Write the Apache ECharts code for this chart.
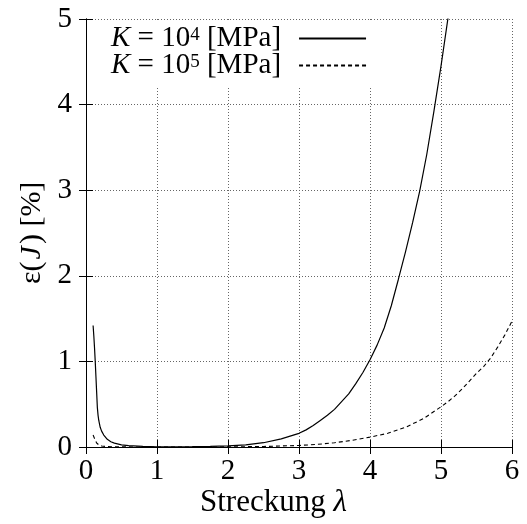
<!DOCTYPE html>
<html>
<head>
<meta charset="utf-8">
<script src="https://cdn.jsdelivr.net/npm/echarts@6/dist/echarts.min.js"></script>
<style>html,body{margin:0;padding:0;background:#fff;}#c{width:527px;height:524px;}</style>
</head>
<body>
<div id="c"></div>
<script>
var xTicks = [0, 1, 2, 3, 4, 5, 6];
var yTicks = [0, 1, 2, 3, 4, 5];
var seriesNames = ['K = 10^4 [MPa]', 'K = 10^5 [MPa]'];

var lambdaSolid = [0.10,0.11,0.12,0.13,0.14,0.15,0.16,0.17,0.18,0.20,0.22,0.25,0.30,0.35,0.40,0.50,0.60,0.80,1.0,1.25,1.5,1.75,2.0,2.25,2.5,2.75,3.0,3.1,3.2,3.3,3.4,3.5,3.6,3.7,3.8,3.9,4.0,4.1,4.2,4.3,4.4,4.5,4.6,4.7,4.8,4.9,5.0,5.1,5.15];
var epsSolid    = [1.42,1.30,1.16,1.00,0.82,0.64,0.46,0.37,0.31,0.23,0.185,0.14,0.09,0.062,0.045,0.025,0.015,0.007,0.003,0.003,0.004,0.007,0.012,0.025,0.05,0.095,0.16,0.20,0.25,0.31,0.37,0.44,0.53,0.62,0.74,0.87,1.02,1.19,1.39,1.65,1.96,2.28,2.62,2.99,3.42,3.92,4.45,5.02,5.32];

var lambdaDashed = [0.10,0.12,0.15,0.18,0.22,0.30,0.40,0.60,1.0,1.5,2.0,2.5,3.0,3.25,3.5,3.75,4.0,4.25,4.5,4.75,5.0,5.1,5.2,5.3,5.4,5.5,5.6,5.7,5.8,5.9,6.0];
var epsDashed    = [0.14,0.10,0.047,0.025,0.012,0.005,0.002,0.001,0.0,0.0,0.001,0.006,0.018,0.03,0.05,0.078,0.115,0.16,0.23,0.33,0.47,0.53,0.60,0.68,0.77,0.86,0.94,1.04,1.17,1.31,1.47];

function pairs(xs, ys) { return xs.map(function (x, i) { return [x, ys[i]]; }); }

var serif = 'Liberation Serif';
function legendFmt(name) {
  var exp = name.match(/\^(\d)/)[1];
  return '{i|K}{t| = 10}{s|' + exp + '}{t| [MPa]}';
}

var axisCommon = {
  type: 'value',
  interval: 1,
  axisLine: { show: true, lineStyle: { color: '#000', width: 1 } },
  axisTick: { show: true, inside: true, length: 7, lineStyle: { color: '#000' } }
};

var chart = echarts.init(document.getElementById('c'));
chart.setOption({
  animation: false,
  backgroundColor: '#fff',
  grid: { left: 86, right: 15, top: 19, bottom: 77, containLabel: false },
  legend: {
    left: 101, top: 22,
    orient: 'vertical',
    align: 'right',
    itemWidth: 67, itemHeight: 14, itemGap: -2,
    backgroundColor: '#fff',
    padding: [2, 8, 6, 10],
    itemStyle: { opacity: 0 },
    formatter: legendFmt,
    textStyle: {
      fontFamily: serif, fontSize: 29, color: '#000', padding: [0, 13, 0, 0], lineHeight: 25,
      rich: {
        i: { fontFamily: serif, fontStyle: 'italic', fontSize: 29, lineHeight: 25, color: '#000' },
        t: { fontFamily: serif, fontSize: 29, lineHeight: 25, color: '#000' },
        s: { fontFamily: serif, fontSize: 19, lineHeight: 25, color: '#000', verticalAlign: 'top' }
      }
    },
    data: seriesNames
  },
  xAxis: [
    Object.assign({}, axisCommon, {
      min: xTicks[0], max: xTicks[xTicks.length - 1], position: 'bottom',
      axisLabel: { show: true, fontFamily: serif, fontSize: 29, color: '#000', margin: 10 },
      splitLine: { show: true, lineStyle: { color: '#666', type: [1, 2], width: 1 } }
    }),
    Object.assign({}, axisCommon, {
      min: xTicks[0], max: xTicks[xTicks.length - 1], position: 'top',
      axisLabel: { show: false }, splitLine: { show: false }
    })
  ],
  yAxis: [
    Object.assign({}, axisCommon, {
      min: yTicks[0], max: yTicks[yTicks.length - 1], position: 'left',
      axisLabel: { show: true, fontFamily: serif, fontSize: 29, color: '#000', margin: 14 },
      splitLine: { show: true, lineStyle: { color: '#666', type: [1, 2], width: 1 } }
    }),
    Object.assign({}, axisCommon, {
      min: yTicks[0], max: yTicks[yTicks.length - 1], position: 'right',
      axisLabel: { show: false }, splitLine: { show: false }
    })
  ],
  graphic: [
    {
      type: 'text', left: 200, top: 487,
      style: {
        text: 'Streckung {l|λ}', fontFamily: serif, fontSize: 31, fill: '#000',
        rich: { l: { fontFamily: serif, fontStyle: 'italic', fontSize: 31, fill: '#000' } }
      }
    },
    {
      type: 'text', x: 17, y: 284, rotation: Math.PI / 2,
      style: {
        text: 'ε({j|J}) [%]', fontFamily: serif, fontSize: 30, fill: '#000',
        rich: { j: { fontFamily: serif, fontStyle: 'italic', fontSize: 30, fill: '#000', padding: [0, 2, 0, 2] } }
      }
    }
  ],
  series: [
    {
      name: seriesNames[0], type: 'line', showSymbol: false, symbol: 'none',
      smooth: false, clip: true,
      lineStyle: { color: '#000', width: 1.2, type: 'solid' },
      itemStyle: { color: '#000' },
      data: pairs(lambdaSolid, epsSolid)
    },
    {
      name: seriesNames[1], type: 'line', showSymbol: false, symbol: 'none',
      smooth: false, clip: true,
      lineStyle: { color: '#000', width: 1.1, type: [4, 3] },
      itemStyle: { color: '#000' },
      data: pairs(lambdaDashed, epsDashed)
    }
  ]
});
</script>
</body>
</html>
